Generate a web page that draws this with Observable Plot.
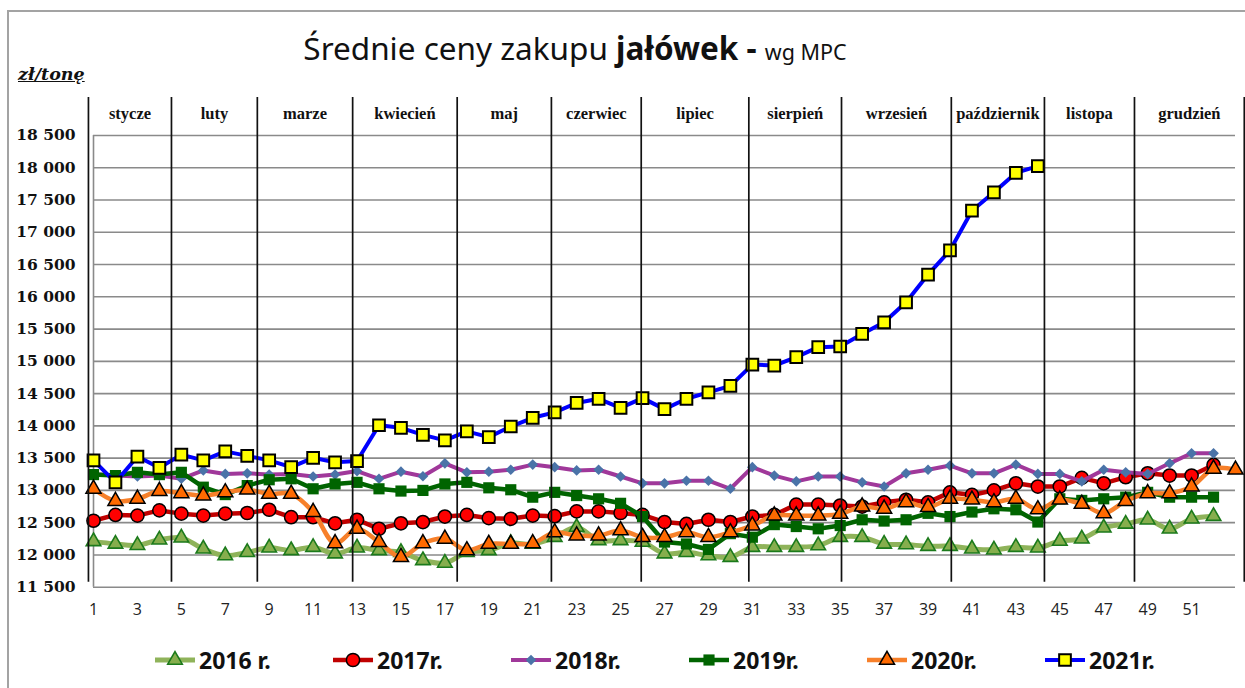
<!DOCTYPE html>
<html><head><meta charset="utf-8">
<script src="https://cdn.jsdelivr.net/npm/d3@7"></script>
<script src="https://cdn.jsdelivr.net/npm/@observablehq/plot@0.6"></script>
<style>
body{margin:0;background:#fff;}
#wrap{position:relative;width:1245px;height:688px;overflow:hidden;background:#fff;}
#frame{position:absolute;left:7px;top:10px;width:1260px;height:700px;border:2px solid #a3a3a3;box-sizing:border-box;}
#title{position:absolute;left:0;width:1150px;top:26px;text-align:center;white-space:nowrap;font-family:"Noto Sans",sans-serif;font-size:31.5px;color:#111;}
#title b{font-weight:bold;}
#title small{font-size:21.5px;}
#unit{position:absolute;left:18px;top:64px;font-family:"DejaVu Serif",serif;font-weight:bold;font-style:italic;font-size:17.5px;text-decoration:underline;color:#111;}
#chart{position:absolute;left:0;top:85px;}
#legend{position:absolute;left:0;top:645px;width:1245px;height:30px;}
.item{position:absolute;top:0;height:30px;display:flex;align-items:center;font-family:"Noto Sans",sans-serif;font-weight:bold;font-size:23px;color:#111;}
.item svg{margin-right:2px;}
</style></head>
<body>
<div id="wrap">
  <div id="frame"></div>
  <div id="title">Średnie ceny zakupu <b>jałówek</b> <b>-</b> <small>wg MPC</small></div>
  <div id="unit">zł/tonę</div>
  <div id="chart"></div>
  <div id="legend"></div>
</div>
<script>
// ---- data ----
const months = ["stycze","luty","marze","kwiecień","maj","czerwiec","lipiec","sierpień","wrzesień","październik","listopa","grudzień"];
const monthBounds = [0.77, 4.55, 8.46, 12.8, 17.56, 21.85, 25.94, 30.84, 35.06, 40.06, 44.3, 48.4, 53.4];
const yTicks = [11500,12000,12500,13000,13500,14000,14500,15000,15500,16000,16500,17000,17500,18000,18500];
const xTicks = [1,3,5,7,9,11,13,15,17,19,21,23,25,27,29,31,33,35,37,39,41,43,45,47,49,51];
const seriesNames = ["2016 r.","2017r.","2018r.","2019r.","2020r.","2021r."];

const v2016 = [12210,12170,12150,12235,12265,12095,11990,12040,12110,12070,12120,12020,12110,12070,12040,11915,11875,12040,12070,12180,12170,12275,12430,12225,12225,12200,12020,12040,11990,11965,12120,12120,12120,12145,12275,12275,12170,12160,12135,12135,12095,12080,12120,12110,12215,12250,12420,12480,12545,12405,12560,12600];
const v2017 = [12530,12620,12610,12690,12640,12610,12640,12650,12700,12585,12585,12490,12545,12405,12490,12510,12595,12620,12570,12560,12610,12600,12675,12675,12650,12620,12510,12480,12545,12510,12595,12620,12780,12780,12765,12750,12815,12855,12815,12970,12930,13000,13110,13060,13060,13195,13110,13205,13265,13230,13230,13395];
const v2018 = [13250,13230,13215,13230,13180,13310,13255,13265,13245,13255,13215,13245,13300,13180,13290,13220,13420,13280,13290,13320,13400,13360,13310,13320,13215,13110,13110,13150,13150,13025,13360,13230,13140,13215,13215,13125,13060,13265,13320,13385,13265,13265,13400,13255,13255,13140,13320,13280,13255,13420,13575,13575];
const v2019 = [13245,13230,13280,13245,13280,13050,12935,13075,13165,13180,13025,13100,13125,13025,12990,13000,13100,13125,13040,13010,12895,12970,12920,12870,12800,12595,12200,12170,12085,12330,12275,12470,12440,12405,12455,12545,12525,12545,12645,12595,12665,12715,12700,12510,12870,12845,12870,12895,12970,12895,12895,12895];
const v2020 = [13025,12835,12870,12990,12955,12920,12970,13010,12945,12945,12665,12180,12405,12200,11965,12180,12250,12070,12170,12170,12180,12350,12300,12300,12380,12275,12275,12350,12275,12350,12455,12610,12610,12610,12635,12750,12715,12815,12740,12870,12855,12815,12870,12705,12855,12790,12645,12835,12955,12955,13060,13335,13320];
const v2021 = [13465,13125,13525,13350,13555,13465,13605,13535,13465,13360,13505,13435,13455,14010,13970,13860,13775,13915,13825,13990,14125,14210,14355,14420,14280,14430,14260,14420,14520,14620,14950,14935,15065,15220,15230,15425,15605,15915,16345,16720,17335,17620,17920,18025];

const valueLists = [v2016, v2017, v2018, v2019, v2020, v2021];

// ---- styles ----
const styles = [
  {line:"#8fb35a", lw:5,   symbol:"triangle", r:5.4, fill:"#86ae4d", stroke:"#1b7a1b", sw:1.6, curve:"catmull-rom"},
  {line:"#c00000", lw:4.5, symbol:"circle",   r:6.6, fill:"#ff0000", stroke:"#000",    sw:1.5, curve:"linear"},
  {line:"#a0389a", lw:4,   symbol:"diamond2", r:4.8, fill:"#4a73a8", stroke:"none",    sw:0,   curve:"linear"},
  {line:"#006400", lw:4.5, symbol:"square",   r:6.3, fill:"#006400", stroke:"none",    sw:0,   curve:"linear"},
  {line:"#f7802a", lw:4.5, symbol:"triangle", r:5.6, fill:"#ff6a00", stroke:"#000",    sw:1.5, curve:"catmull-rom"},
  {line:"#0000ff", lw:4,   symbol:"square",   r:6.6, fill:"#ffff00", stroke:"#000",    sw:2,   curve:"linear"}
];

const seriesData = valueLists.map((vals, s) => vals.map((v, i) => ({week: i + 1, value: v, series: seriesNames[s]})));
const monthMid = months.map((m, i) => ({label: m, x: (monthBounds[i] + monthBounds[i + 1]) / 2}));
const fmt = d => d3.format(",")(d).replace(",", " ");

const marks = [
  Plot.gridY(yTicks, {stroke:"#8a8a8a", strokeOpacity:1, strokeWidth:1.6}),
  Plot.ruleX([1], {stroke:"#8a8a8a", strokeWidth:1.6}),
  Plot.axisY({ticks: yTicks, tickSize: 0, tickPadding: 18, tickFormat: fmt, fontFamily: "DejaVu Serif", fontWeight: "bold", fontSize: 15.5, fill: "#111", label: null}),
  Plot.axisX({ticks: xTicks, tickSize: 0, tickPadding: 16, tickFormat: d => String(d), fontFamily: "Open Sans", fontSize: 16, fill: "#222", label: null})
];
seriesData.forEach((data, s) => {
  const st = styles[s];
  marks.push(Plot.line(data, {x:"week", y:"value", stroke: st.line, strokeWidth: st.lw, curve: st.curve}));
  marks.push(Plot.dot(data, {x:"week", y:"value", symbol: st.symbol, r: st.r, fill: st.fill, stroke: st.stroke, strokeWidth: st.sw}));
});
marks.push(Plot.ruleX(monthBounds, {stroke:"#111", strokeWidth:1.7, insetTop:-38, insetBottom:5}));
marks.push(Plot.text(monthMid, {x:"x", text:"label", frameAnchor:"top", dy:-28, fontFamily:"Liberation Serif", fontWeight:"bold", fontSize:16.5, fill:"#111"}));

const chart = Plot.plot({
  width: 1245,
  height: 545,
  marginLeft: 93,
  marginRight: 10,
  marginTop: 50,
  marginBottom: 43.3,
  x: {domain: [1, 53]},
  y: {domain: [11500, 18500]},
  style: {background: "transparent", overflow: "visible"},
  marks
});
document.getElementById("chart").appendChild(chart);

// ---- legend ----
const legend = document.getElementById("legend");
seriesNames.forEach((name, s) => {
  const st = styles[s];
  const item = document.createElement("div");
  item.className = "item";
  item.style.left = (155 + s * 178) + "px";
  const svg = d3.create("svg").attr("width", 42).attr("height", 30);
  svg.append("line").attr("x1", 0).attr("x2", 40).attr("y1", 15).attr("y2", 15).attr("stroke", st.line).attr("stroke-width", st.lw);
  const symMap = {triangle: d3.symbolTriangle, circle: d3.symbolCircle, diamond2: d3.symbolDiamond2, square: d3.symbolSquare};
  svg.append("path").attr("transform", "translate(20,15)")
    .attr("d", d3.symbol(symMap[st.symbol], Math.PI * st.r * st.r)())
    .attr("fill", st.fill).attr("stroke", st.stroke).attr("stroke-width", st.sw);
  item.appendChild(svg.node());
  const t = document.createElement("span");
  t.textContent = name;
  item.appendChild(t);
  legend.appendChild(item);
});
</script>
</body></html>
